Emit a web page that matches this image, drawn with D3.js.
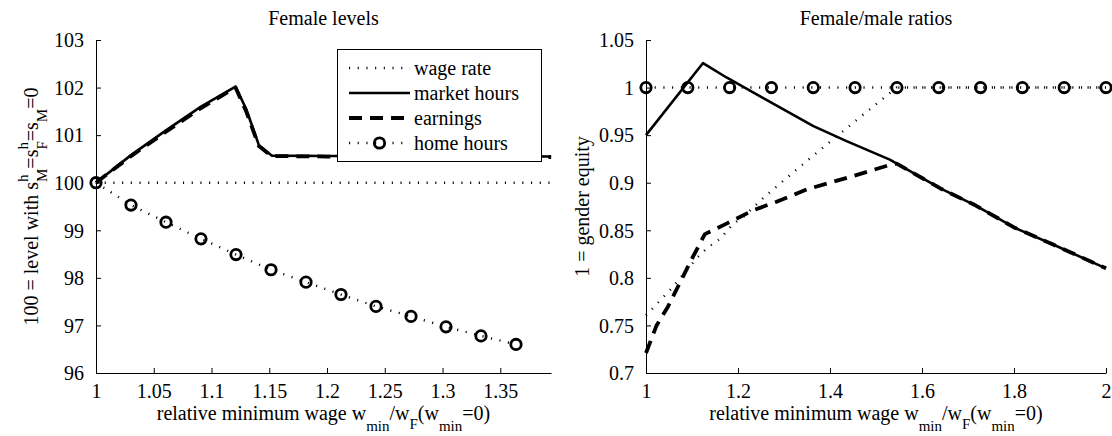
<!DOCTYPE html>
<html>
<head>
<meta charset="utf-8">
<script src="https://cdn.jsdelivr.net/npm/d3@7"></script>
<style>
  html, body { margin: 0; padding: 0; background: #fff; }
  svg { display: block; }
  svg text { font-family: "Liberation Serif", Tinos, "Times New Roman", Times, "Nimbus Roman", "DejaVu Serif", serif; fill: #000; }
</style>
</head>
<body>
<svg id="chart" width="1112" height="436"></svg>
<script>
// ---- Female levels (left panel) ----
const levelX = [1, 1.0303, 1.0606, 1.0909, 1.1208, 1.130, 1.141, 1.152, 1.2, 1.3, 1.394];
const levelMarketHours = [100, 100.58, 101.1, 101.6, 102.02, 101.55, 100.79, 100.57, 100.56, 100.56, 100.55];
const levelEarnings    = [100, 100.56, 101.07, 101.57, 102.0, 101.5, 100.77, 100.56, 100.55, 100.54, 100.54];
const levelWageX = [1, 1.394];
const levelWage  = [100, 100];
const levelHomeX = [1, 1.0303, 1.0606, 1.0909, 1.1212, 1.1515, 1.1818, 1.2121, 1.2424, 1.2727, 1.3030, 1.3333, 1.3636];
const levelHome  = [100, 99.53, 99.17, 98.82, 98.49, 98.17, 97.91, 97.65, 97.40, 97.19, 96.97, 96.78, 96.60];
const levelXTicks = [1, 1.05, 1.1, 1.15, 1.2, 1.25, 1.3, 1.35];
const levelYTicks = [96, 97, 98, 99, 100, 101, 102, 103];

// ---- Female/male ratios (right panel) ----
const ratioWageX = [1, 1.038, 1.056, 1.08, 1.11, 1.132, 1.161, 1.19, 1.2115, 1.255, 1.3276, 1.4, 1.472, 1.545, 2];
const ratioWage  = [0.7605, 0.78, 0.789, 0.803, 0.8205, 0.831, 0.841, 0.857, 0.864, 0.884, 0.914, 0.943, 0.9715, 1.0, 1.0];
const ratioHoursX = [1, 1.124, 1.175, 1.255, 1.364, 1.436, 1.53, 1.64, 1.717, 1.8, 1.885, 2];
const ratioHours  = [0.95, 1.0258, 1.0106, 0.9889, 0.9595, 0.9437, 0.9243, 0.894, 0.876, 0.853, 0.835, 0.81];
const ratioEarnX = [1, 1.023, 1.048, 1.078, 1.103, 1.128, 1.175, 1.233, 1.284, 1.35, 1.457, 1.525, 1.545, 1.64, 1.717, 1.8, 1.885, 2];
const ratioEarn  = [0.721, 0.75, 0.770, 0.799, 0.823, 0.846, 0.857, 0.871, 0.880, 0.893, 0.908, 0.918, 0.920, 0.894, 0.876, 0.853, 0.835, 0.81];
const ratioHomeX = [1, 1.0909, 1.1818, 1.2727, 1.3636, 1.4545, 1.5455, 1.6364, 1.7273, 1.8182, 1.9091, 2];
const ratioHome  = [1, 1, 1, 1, 1, 1, 1, 1, 1, 1, 1, 1];
const ratioXTicks = [1, 1.2, 1.4, 1.6, 1.8, 2];
const ratioYTicks = [0.7, 0.75, 0.8, 0.85, 0.9, 0.95, 1, 1.05];

const legendLabels = ["wage rate", "market hours", "earnings", "home hours"];

const FONT = '"Liberation Serif", Tinos, "Times New Roman", Times, "Nimbus Roman", "DejaVu Serif", serif';

const svg = d3.select("#chart");

const styles = {
  dotted: { width: 2.4, dash: "1.1,7.6" },
  solid:  { width: 2.6, dash: null },
  dashed: { width: 3.8, dash: "13,8" }
};
const MARKER_R = 5.2, MARKER_W = 2.8;

function applyStyle(sel, st) {
  sel.attr("fill", "none").attr("stroke", "#000")
     .attr("stroke-width", st.width)
     .attr("stroke-dasharray", st.dash)
     .attr("stroke-linejoin", "round");
  return sel;
}

function drawPanel(cfg) {
  const g = svg.append("g");
  const x = d3.scaleLinear().domain(cfg.xDomain).range(cfg.xRange);
  const y = d3.scaleLinear().domain(cfg.yDomain).range(cfg.yRange);

  // axes: left and bottom only, ticks pointing inward
  const xAxis = d3.axisBottom(x).tickValues(cfg.xTicks).tickSizeInner(-5).tickSizeOuter(0)
    .tickFormat(d3.format("~g")).tickPadding(11);
  const yAxis = d3.axisLeft(y).tickValues(cfg.yTicks).tickSizeInner(-5).tickSizeOuter(0)
    .tickFormat(d3.format("~g")).tickPadding(12);

  const line = (xs, ys) => d3.line().x((d, i) => x(xs[i])).y(d => y(d))(ys);

  cfg.series.forEach(s => {
    applyStyle(g.append("path").attr("d", line(s.x, s.y)), styles[s.style]);
    if (s.markers) {
      g.selectAll(null).data(s.y).enter().append("circle")
        .attr("cx", (d, i) => x(s.x[i])).attr("cy", d => y(d))
        .attr("r", MARKER_R).attr("fill", "none").attr("stroke", "#000").attr("stroke-width", MARKER_W);
    }
  });

  const gx = g.append("g").attr("transform", `translate(0,${cfg.yRange[0]})`).call(xAxis);
  const gy = g.append("g").attr("transform", `translate(${cfg.xRange[0]},0)`).call(yAxis);
  [gx, gy].forEach(a => {
    a.attr("font-family", FONT).attr("font-size", 20);
    a.select(".domain").attr("stroke", "#000").attr("stroke-width", 1);
    a.selectAll(".tick line").attr("stroke", "#000").attr("stroke-width", 1);
    a.selectAll(".tick text").attr("fill", "#000");
  });
  gy.selectAll(".tick text").attr("dy", "0.34em");

  // title
  g.append("text").attr("x", (cfg.xRange[0] + cfg.xRange[1]) / 2).attr("y", 25)
    .attr("text-anchor", "middle").attr("font-family", FONT).attr("font-size", 20).text(cfg.title);

  // x label: relative minimum wage w_min/w_F(w_min=0)
  const xl = g.append("text").attr("x", (cfg.xRange[0] + cfg.xRange[1]) / 2).attr("y", 420)
    .attr("text-anchor", "middle").attr("font-family", FONT).attr("font-size", 20);
  xl.append("tspan").text("relative minimum wage w");
  xl.append("tspan").attr("dy", 11).attr("font-size", 15).text("min");
  xl.append("tspan").attr("dy", -11).text("/w");
  xl.append("tspan").attr("dy", 9).attr("font-size", 15).text("F");
  xl.append("tspan").attr("dy", -9).text("(w");
  xl.append("tspan").attr("dy", 11).attr("font-size", 15).text("min");
  xl.append("tspan").attr("dy", -11).text("=0)");

  // y label
  const yl = g.append("text")
    .attr("transform", `translate(${cfg.yLabelX},${(cfg.yRange[0] + cfg.yRange[1]) / 2}) rotate(-90)`)
    .attr("text-anchor", "middle").attr("font-family", FONT).attr("font-size", 20);
  cfg.yLabel(yl);

  return { g, x, y };
}

drawPanel({
  xDomain: [1, 1.3939], xRange: [96, 551],
  yDomain: [96, 103], yRange: [373, 40],
  xTicks: levelXTicks, yTicks: levelYTicks,
  title: "Female levels",
  yLabelX: 38,
  yLabel: t => {
    t.append("tspan").text("100 = level with s");
    t.append("tspan").attr("dy", -10).attr("font-size", 15).text("h");
    t.append("tspan").attr("dx", -7.5).attr("dy", 19).attr("font-size", 15).text("M");
    t.append("tspan").attr("dy", -9).text("=s");
    t.append("tspan").attr("dy", -10).attr("font-size", 15).text("h");
    t.append("tspan").attr("dx", -7.5).attr("dy", 19).attr("font-size", 15).text("F");
    t.append("tspan").attr("dy", -9).text("=s");
    t.append("tspan").attr("dy", 9).attr("font-size", 15).text("M");
    t.append("tspan").attr("dy", -9).text("=0");
  },
  series: [
    { x: levelWageX, y: levelWage, style: "dotted" },
    { x: levelX, y: levelMarketHours, style: "solid" },
    { x: levelX, y: levelEarnings, style: "dashed" },
    { x: levelHomeX, y: levelHome, style: "dotted", markers: true }
  ]
});

drawPanel({
  xDomain: [1, 2], xRange: [646, 1106],
  yDomain: [0.7, 1.05], yRange: [373, 40],
  xTicks: ratioXTicks, yTicks: ratioYTicks,
  title: "Female/male ratios",
  yLabelX: 589,
  yLabel: t => t.text("1 = gender equity"),
  series: [
    { x: ratioWageX, y: ratioWage, style: "dotted" },
    { x: ratioHoursX, y: ratioHours, style: "solid" },
    { x: ratioEarnX, y: ratioEarn, style: "dashed" },
    { x: ratioHomeX, y: ratioHome, style: "dotted", markers: true }
  ]
});

// legend in the left panel
const leg = svg.append("g").attr("font-family", FONT).attr("font-size", 20);
leg.append("rect").attr("x", 337.5).attr("y", 49.5).attr("width", 204).attr("height", 112)
  .attr("fill", "#fff").attr("stroke", "#000").attr("stroke-width", 1);
const legStyles = ["dotted", "solid", "dashed", "dotted"];
legendLabels.forEach((lab, i) => {
  const cy = 68 + i * 25;
  applyStyle(leg.append("line").attr("x1", 349).attr("x2", 410).attr("y1", cy).attr("y2", cy), styles[legStyles[i]]);
  if (i === 3) {
    leg.append("circle").attr("cx", 379.5).attr("cy", cy).attr("r", MARKER_R)
      .attr("fill", "none").attr("stroke", "#000").attr("stroke-width", MARKER_W);
  }
  leg.append("text").attr("x", 414).attr("y", cy + 6.5).text(lab);
});
</script>
</body>
</html>
